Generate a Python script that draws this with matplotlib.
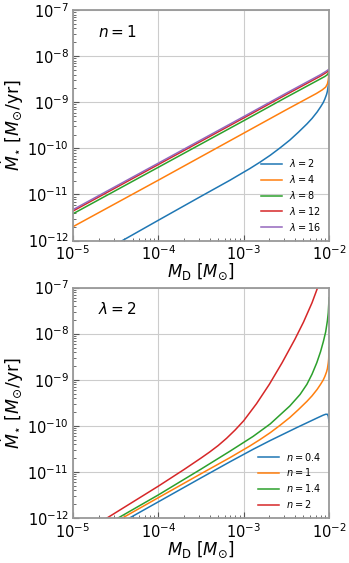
import numpy as np
import matplotlib
matplotlib.use("Agg")
import matplotlib.pyplot as plt

# values, stored as log10(M_D) and log10(Mdot)

# top panel: n = 1, several lambda
lam_labels = [r"$\lambda = 2$", r"$\lambda = 4$", r"$\lambda = 8$", r"$\lambda = 12$", r"$\lambda = 16$"]

logx_lam2 = [-5.0, -4.42, -4.0, -3.5, -3.16, -3.05, -2.93, -2.81, -2.69, -2.575, -2.46, -2.36,
             -2.26, -2.2, -2.14, -2.1, -2.07, -2.05, -2.03, -2.02, -2.01, -2.005, -2.0]
logy_lam2 = [-12.64, -12.0, -11.56, -11.04, -10.69, -10.57, -10.44, -10.30, -10.15, -9.99, -9.82, -9.65,
             -9.47, -9.35, -9.21, -9.10, -9.01, -8.93, -8.83, -8.76, -8.64, -8.55, -8.30]

logx_lam4 = [-5.0, -4.0, -3.0, -2.5, -2.3, -2.15, -2.08, -2.04, -2.02, -2.01, -2.0]
logy_lam4 = [-11.70, -10.69, -9.67, -9.16, -8.96, -8.81, -8.73, -8.67, -8.60, -8.52, -8.34]

logx_lam8 = [-5.0, -4.0, -3.0, -2.5, -2.2, -2.1, -2.05, -2.02, -2.0]
logy_lam8 = [-11.42, -10.41, -9.40, -8.89, -8.59, -8.49, -8.44, -8.40, -8.34]

logx_lam12 = [-5.0, -4.0, -3.0, -2.5, -2.1, -2.03, -2.0]
logy_lam12 = [-11.36, -10.35, -9.34, -8.83, -8.43, -8.35, -8.31]

logx_lam16 = [-5.0, -4.0, -3.0, -2.5, -2.1, -2.03, -2.0]
logy_lam16 = [-11.33, -10.32, -9.31, -8.80, -8.40, -8.32, -8.28]

# bottom panel: lambda = 2, several n
n_labels = [r"$n = 0.4$", r"$n = 1$", r"$n = 1.4$", r"$n = 2$"]

logx_n04 = [-5.0, -4.375, -4.0, -3.5, -3.16, -2.89, -2.69, -2.38, -2.14, -2.07, -2.04, -2.02, -2.01, -2.0]
logy_n04 = [-12.70, -12.04, -11.65, -11.13, -10.78, -10.51, -10.32, -10.04, -9.83, -9.77, -9.75, -9.75, -9.79, -9.92]

logx_n1 = logx_lam2
logy_n1 = logy_lam2

logx_n14 = [-5.0, -4.47, -4.0, -3.5, -3.16, -2.89, -2.69, -2.46, -2.34, -2.26, -2.2, -2.144,
            -2.1, -2.067, -2.04, -2.02, -2.01, -2.0]
logy_n14 = [-12.56, -12.0, -11.50, -10.94, -10.55, -10.23, -9.96, -9.57, -9.32, -9.10, -8.88, -8.63,
            -8.39, -8.17, -7.96, -7.72, -7.55, -7.22]

logx_n2 = [-5.0, -4.6, -4.3, -4.0, -3.7, -3.5, -3.4, -3.3, -3.2, -3.1, -3.0, -2.85, -2.7,
           -2.55, -2.4, -2.3, -2.2, -2.12]
logy_n2 = [-12.46, -12.0, -11.655, -11.31, -10.95, -10.70, -10.57, -10.43, -10.27, -10.09, -9.89, -9.52, -9.10,
           -8.63, -8.12, -7.75, -7.33, -6.93]

top_curves = [(logx_lam2, logy_lam2), (logx_lam4, logy_lam4), (logx_lam8, logy_lam8),
              (logx_lam12, logy_lam12), (logx_lam16, logy_lam16)]
bot_curves = [(logx_n04, logy_n04), (logx_n1, logy_n1), (logx_n14, logy_n14), (logx_n2, logy_n2)]

colors = ["#1f77b4", "#ff7f0e", "#2ca02c", "#d62728", "#9467bd"]

fig, (ax1, ax2) = plt.subplots(2, 1, figsize=(3.49, 5.63), dpi=100)
fig.subplots_adjust(left=0.209, right=0.943, top=0.982, bottom=0.080, hspace=0.204)

for (lx, ly), lab, c in zip(top_curves, lam_labels, colors):
    ax1.plot(10.0 ** np.array(lx), 10.0 ** np.array(ly), color=c, lw=1.1, label=lab)
for (lx, ly), lab, c in zip(bot_curves, n_labels, colors):
    ax2.plot(10.0 ** np.array(lx), 10.0 ** np.array(ly), color=c, lw=1.1, label=lab)

for ax, txt in [(ax1, r"$n = 1$"), (ax2, r"$\lambda = 2$")]:
    ax.set_xscale("log")
    ax.set_yscale("log")
    ax.set_xlim(1e-5, 1e-2)
    ax.set_ylim(1e-12, 1e-7)
    ax.grid(True, which="major", color="#cccccc", lw=0.8)
    ax.tick_params(which="both", direction="in", top=False, right=False, labelsize=10.5, color="#555555")
    ax.tick_params(which="major", length=4, pad=3)
    ax.tick_params(which="minor", length=2.5)
    for s in ax.spines.values():
        s.set_color("#999999")
        s.set_linewidth(1.3)
    ax.set_xlabel(r"$M_{\rm D}\ [M_{\odot}]$", fontsize=12, labelpad=-1)
    ax.set_ylabel(r"$\dot{M}_{\star}\ [M_{\odot}/{\rm yr}]$", fontsize=12.5, labelpad=1)
    ax.text(0.098, 0.885, txt, transform=ax.transAxes, fontsize=11)
    ax.legend(loc="lower right", frameon=False, fontsize=7, handlelength=2.1,
              labelspacing=0.4, borderaxespad=0.4)

fig.savefig("out.png", dpi=100)
